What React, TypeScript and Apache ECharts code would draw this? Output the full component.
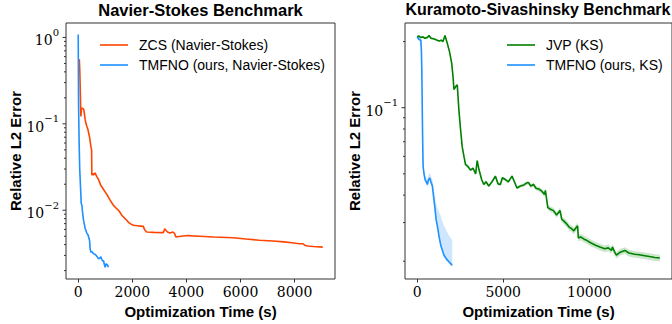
import React, { useEffect, useRef } from 'react';
import * as echarts from 'echarts';

// ---------- Data ----------
const nsTitle = 'Navier-Stokes Benchmark';
const ksTitle = 'Kuramoto-Sivashinsky Benchmark';
const xName = 'Optimization Time (s)';
const yName = 'Relative L2 Error';

const zcsName = 'ZCS (Navier-Stokes)';
const tmfnoNsName = 'TMFNO (ours, Navier-Stokes)';
const jvpName = 'JVP (KS)';
const tmfnoKsName = 'TMFNO (ours, KS)';

// Navier-Stokes: ZCS [time (s), error]
const zcsNS: [number, number][] = [
  [40, 0.56], [60, 0.4], [75, 0.25], [98, 0.122], [120, 0.15], [147, 0.152],
  [200, 0.148], [230, 0.13], [258, 0.111], [290, 0.1], [320, 0.093], [350, 0.088],
  [381, 0.08], [420, 0.07], [467, 0.0545], [495, 0.05], [504, 0.0255], [540, 0.0267],
  [565, 0.0255], [620, 0.027], [688, 0.0245], [740, 0.023], [786, 0.0213], [830, 0.0195],
  [872, 0.0187], [930, 0.0175], [995, 0.0163], [1100, 0.0145], [1180, 0.0131],
  [1240, 0.0122], [1302, 0.0114], [1400, 0.0106], [1487, 0.01], [1550, 0.0094],
  [1610, 0.00875], [1700, 0.0082], [1794, 0.00765], [1850, 0.0073], [1917, 0.007],
  [2040, 0.0067], [2200, 0.0066], [2407, 0.0065], [2450, 0.006], [2531, 0.0056],
  [2800, 0.00555], [3145, 0.0055], [3200, 0.0061], [3231, 0.0059], [3300, 0.0056],
  [3391, 0.00545], [3500, 0.0056], [3560, 0.0054], [3612, 0.0049], [3800, 0.005],
  [4066, 0.0051], [4200, 0.00505], [4500, 0.005], [5000, 0.0049], [5725, 0.00481],
  [6200, 0.00465], [6700, 0.0045], [7200, 0.0044], [7600, 0.0043], [7900, 0.0042],
  [8183, 0.0041], [8300, 0.0041], [8400, 0.0039], [8490, 0.00385], [8700, 0.0038],
  [9043, 0.00374],
];

// Navier-Stokes: TMFNO [time (s), error]
const tmfnoNS: [number, number][] = [
  [0, 1.08], [12, 0.174], [25, 0.09], [37, 0.0545], [55, 0.03], [74, 0.0223], [90, 0.017],
  [111, 0.012], [135, 0.0115], [160, 0.0095], [197, 0.00765], [230, 0.0068], [258, 0.0061],
  [290, 0.0058], [320, 0.0054], [360, 0.0052], [418, 0.0045], [440, 0.0036], [467, 0.00327],
  [520, 0.0033], [565, 0.00313], [610, 0.0031], [663, 0.003], [700, 0.0029], [750, 0.00274],
  [800, 0.0028], [835, 0.0029], [870, 0.0027], [909, 0.00257], [940, 0.0026], [958, 0.0024],
  [995, 0.00219], [1030, 0.0024], [1057, 0.00236], [1090, 0.0023], [1118, 0.00219],
];

// KS: JVP [time (s), error] and relative band half-width
const jvpKS: [number, number][] = [
  [0, 0.21], [100, 0.212], [200, 0.209], [350, 0.21], [450, 0.207], [600, 0.209],
  [694, 0.213], [800, 0.207], [950, 0.206], [1100, 0.204], [1272, 0.201], [1400, 0.203],
  [1500, 0.2], [1618, 0.213], [1754, 0.196], [1880, 0.18], [2004, 0.16], [2080, 0.14],
  [2139, 0.121], [2250, 0.125], [2331, 0.127], [2428, 0.097], [2520, 0.08], [2620, 0.0663],
  [2720, 0.06], [2813, 0.055], [2950, 0.054], [3102, 0.052], [3250, 0.053], [3400, 0.05],
  [3487, 0.0574], [3600, 0.052], [3750, 0.047], [3873, 0.0447], [4000, 0.046], [4162, 0.044],
  [4350, 0.046], [4548, 0.0488], [4700, 0.045], [4837, 0.0447], [4950, 0.048], [5125, 0.0471],
  [5300, 0.046], [5511, 0.0488], [5650, 0.046], [5800, 0.0431], [6000, 0.044], [6200, 0.0445],
  [6378, 0.0455], [6474, 0.0455], [6600, 0.044], [6763, 0.0447], [6900, 0.043], [7100, 0.0425],
  [7243, 0.0417], [7399, 0.0403], [7450, 0.042], [7592, 0.0351], [7750, 0.0345], [7919, 0.034],
  [8100, 0.0325], [8306, 0.034], [8400, 0.031], [8497, 0.0306], [8700, 0.0295], [8850, 0.0285],
  [8978, 0.0281], [9100, 0.0275], [9323, 0.029], [9364, 0.0255], [9500, 0.0258], [9700, 0.0252],
  [9844, 0.0249], [10100, 0.0242], [10400, 0.0236], [10618, 0.0232], [10900, 0.0228],
  [11100, 0.023], [11289, 0.0224], [11350, 0.0232], [11450, 0.0222], [11578, 0.0213],
  [11800, 0.022], [12064, 0.0224], [12300, 0.0218], [12642, 0.0215], [12900, 0.0214],
  [13220, 0.0212], [13500, 0.021], [13800, 0.0208], [14100, 0.0207],
];
const jvpSpread: number[] = [
  0.01, 0.01, 0.01, 0.01, 0.01, 0.01, 0.01, 0.01, 0.01, 0.01, 0.01, 0.01,
  0.01, 0.01, 0.01, 0.012, 0.012, 0.012, 0.012, 0.012, 0.012, 0.012, 0.012, 0.015,
  0.015, 0.015, 0.015, 0.015, 0.015, 0.015, 0.015, 0.015, 0.015, 0.015, 0.015, 0.015,
  0.015, 0.015, 0.015, 0.015, 0.015, 0.015, 0.015, 0.015, 0.015, 0.015, 0.015, 0.02,
  0.02, 0.02, 0.02, 0.02, 0.02, 0.025, 0.025, 0.025, 0.025, 0.03, 0.03, 0.03,
  0.03, 0.03, 0.03, 0.035, 0.035, 0.035, 0.035, 0.035, 0.035, 0.035, 0.035, 0.035,
  0.035, 0.035, 0.035, 0.035, 0.035, 0.035, 0.035, 0.035, 0.035, 0.035, 0.035, 0.035,
  0.035, 0.035, 0.035, 0.035, 0.035, 0.035, 0.035,
];

// KS: TMFNO [time (s), error] with band bounds
const tmfnoKSTime = [0, 100, 214, 250, 272, 290, 306, 325, 347, 400, 462, 530, 595, 660, 734, 800, 884, 960, 1040, 1100, 1173, 1270, 1370, 1460, 1561, 1700, 1850, 1950, 2040];
const tmfnoKSErr = [0.21, 0.205, 0.203, 0.18, 0.147, 0.115, 0.0874, 0.068, 0.054, 0.05, 0.0471, 0.046, 0.0447, 0.047, 0.0479, 0.046, 0.044, 0.039, 0.0345, 0.031, 0.029, 0.026, 0.0237, 0.0225, 0.0213, 0.0205, 0.0199, 0.0195, 0.0192];
const tmfnoKSUpper = [0.215, 0.209, 0.207, 0.19, 0.16, 0.125, 0.095, 0.073, 0.057, 0.052, 0.049, 0.048, 0.047, 0.0495, 0.0505, 0.049, 0.047, 0.043, 0.0396, 0.037, 0.035, 0.0335, 0.0322, 0.0305, 0.029, 0.0276, 0.0262, 0.0255, 0.0249];
const tmfnoKSLower = [0.206, 0.201, 0.199, 0.175, 0.142, 0.11, 0.084, 0.065, 0.052, 0.048, 0.0458, 0.0448, 0.0436, 0.0458, 0.0466, 0.0448, 0.0428, 0.038, 0.0336, 0.0302, 0.0283, 0.0254, 0.0232, 0.022, 0.0209, 0.0201, 0.0195, 0.0191, 0.0188];

// Axis ranges and ticks
const nsXRange = [-452, 9495];
const ksXRange = [-705, 14805];
const nsYRange = [0.0016, 1.47];
const ksYRange = [0.0166, 0.243];
const nsXInterval = 2000;
const ksXInterval = 5000;
const nsMajorY = [0.01, 0.1, 1];
const nsMinorY = [0.002, 0.003, 0.004, 0.005, 0.006, 0.007, 0.008, 0.009, 0.02, 0.03, 0.04, 0.05, 0.06, 0.07, 0.08, 0.09, 0.2, 0.3, 0.4, 0.5, 0.6, 0.7, 0.8, 0.9];
const ksMajorY = [0.1];
const ksMinorY = [0.02, 0.03, 0.04, 0.05, 0.06, 0.07, 0.08, 0.09, 0.2];

// ---------- Styling ----------
const ORANGE = '#FF4500';
const BLUE = '#1E90FF';
const GREEN = '#008000';
const SANS = '"Liberation Sans", Arial, sans-serif';
const SERIF = '"DejaVu Serif", "Liberation Serif", serif';
const AXIS = '#333';

function supLabel(value: number): string {
  const l = Math.log10(value);
  const e = Math.round(l);
  if (Math.abs(l - e) > 1e-6) return '';
  const exp = e < 0 ? '\u2212' + Math.abs(e) : String(e);
  return '{b|10}{s|' + exp + '}';
}

function tickSeries(gridIdx: number, major: number[], minor: number[]) {
  const data = [
    ...major.map((v) => [0, v, 3.5]),
    ...minor.map((v) => [0, v, 2]),
  ];
  return {
    type: 'custom',
    name: 'ticks' + gridIdx,
    xAxisIndex: gridIdx,
    yAxisIndex: gridIdx,
    silent: true,
    encode: { x: 0, y: 1 },
    data,
    renderItem: (params: any, api: any) => {
      const cs = params.coordSys;
      const y = api.coord([0, api.value(1)])[1];
      const len = api.value(2);
      return {
        type: 'line',
        shape: { x1: cs.x - len, y1: y, x2: cs.x, y2: y },
        style: { stroke: AXIS, lineWidth: 1 },
      };
    },
  };
}

function bandSeries(gridIdx: number, name: string, times: number[], lo: number[], hi: number[], fill: string) {
  return {
    type: 'custom',
    name,
    xAxisIndex: gridIdx,
    yAxisIndex: gridIdx,
    silent: true,
    z: 1,
    encode: { x: 0, y: 1 },
    data: [[times[0], hi[0]]],
    renderItem: (_params: any, api: any) => {
      const pts: number[][] = [];
      for (let i = 0; i < times.length; i++) pts.push(api.coord([times[i], hi[i]]));
      for (let i = times.length - 1; i >= 0; i--) pts.push(api.coord([times[i], lo[i]]));
      return { type: 'polygon', shape: { points: pts }, style: { fill, stroke: 'none' } };
    },
  };
}

function lineSeries(gridIdx: number, name: string, data: number[][], color: string) {
  return {
    type: 'line',
    name,
    xAxisIndex: gridIdx,
    yAxisIndex: gridIdx,
    data,
    symbol: 'none',
    z: 3,
    lineStyle: { color, width: 1.6 },
    itemStyle: { color },
  };
}

function xAxisOpt(gridIdx: number, range: number[], interval: number) {
  return {
    type: 'value',
    gridIndex: gridIdx,
    min: range[0],
    max: range[1],
    minInterval: interval,
    maxInterval: interval,
    name: xName,
    nameLocation: 'middle',
    nameGap: 25,
    nameTextStyle: { fontFamily: SANS, fontWeight: 'bold', fontSize: 15, color: '#000' },
    splitLine: { show: false },
    axisLine: { show: false },
    axisTick: { show: true, length: 3.5, lineStyle: { color: AXIS, width: 1 } },
    axisLabel: {
      showMinLabel: false,
      showMaxLabel: false,
      margin: 6,
      fontFamily: SERIF,
      fontSize: 14,
      color: '#000',
      formatter: (v: number) => String(v),
    },
  };
}

function yAxisOpt(gridIdx: number, range: number[]) {
  return {
    type: 'log',
    logBase: 10,
    gridIndex: gridIdx,
    min: range[0],
    max: range[1],
    name: yName,
    nameLocation: 'middle',
    nameGap: 40,
    nameTextStyle: { fontFamily: SANS, fontWeight: 'bold', fontSize: 15, color: '#000' },
    splitLine: { show: false },
    axisLine: { show: false },
    axisTick: { show: false },
    axisLabel: {
      showMinLabel: false,
      showMaxLabel: false,
      margin: 7,
      formatter: supLabel,
      rich: {
        b: { fontFamily: SERIF, fontSize: 14, color: '#000', lineHeight: 20, verticalAlign: 'bottom' },
        s: { fontFamily: SERIF, fontSize: 10, color: '#000', verticalAlign: 'top', lineHeight: 12 },
      },
    },
  };
}

function legendOpt(left: number, names: string[]) {
  return {
    data: names,
    orient: 'vertical',
    left,
    top: 32,
    icon: 'rect',
    itemWidth: 28,
    itemHeight: 1.6,
    itemGap: 4,
    selectedMode: false,
    textStyle: { fontFamily: SANS, fontSize: 14, lineHeight: 16, color: '#000', padding: [0, 0, 0, 6] },
  };
}

export default function App() {
  const ref = useRef<HTMLDivElement>(null);

  useEffect(() => {
    if (!ref.current) return;
    const chart = echarts.init(ref.current, undefined, { renderer: 'svg' });

    const jvpLo = jvpKS.map((p, i) => [p[0], p[1] * (1 - jvpSpread[i])]);
    const jvpHi = jvpKS.map((p, i) => [p[0], p[1] * (1 + jvpSpread[i])]);
    const ksTmfno = tmfnoKSTime.map((t, i) => [t, tmfnoKSErr[i]]);

    chart.setOption({
      animation: false,
      backgroundColor: '#fff',
      title: [
        { text: nsTitle, left: 200.5, top: 1, padding: 0, textAlign: 'center',
          textStyle: { fontFamily: SANS, fontWeight: 'bold', fontSize: 16.5, color: '#000' } },
        { text: ksTitle, left: 538, top: 1, padding: 0, textAlign: 'center',
          textStyle: { fontFamily: SANS, fontWeight: 'bold', fontSize: 16, color: '#000' } },
      ],
      legend: [
        legendOpt(95, [zcsName, tmfnoNsName]),
        legendOpt(502, [jvpName, tmfnoKsName]),
      ],
      grid: [
        { left: 66, top: 23, width: 269, height: 257, show: true, borderColor: AXIS, borderWidth: 1, backgroundColor: 'transparent' },
        { left: 405, top: 23, width: 270, height: 257, show: true, borderColor: AXIS, borderWidth: 1, backgroundColor: 'transparent' },
      ],
      xAxis: [xAxisOpt(0, nsXRange, nsXInterval), xAxisOpt(1, ksXRange, ksXInterval)],
      yAxis: [yAxisOpt(0, nsYRange), yAxisOpt(1, ksYRange)],
      series: [
        tickSeries(0, nsMajorY, nsMinorY),
        tickSeries(1, ksMajorY, ksMinorY),
        bandSeries(1, 'jvp-band', jvpKS.map((p) => p[0]), jvpLo.map((p) => p[1]), jvpHi.map((p) => p[1]), 'rgba(0,128,0,0.2)'),
        bandSeries(1, 'tmfno-ks-band', tmfnoKSTime, tmfnoKSLower, tmfnoKSUpper, 'rgba(30,144,255,0.22)'),
        lineSeries(0, zcsName, zcsNS, ORANGE),
        lineSeries(0, tmfnoNsName, tmfnoNS, BLUE),
        lineSeries(1, jvpName, jvpKS, GREEN),
        lineSeries(1, tmfnoKsName, ksTmfno, BLUE),
      ],
    });

    return () => chart.dispose();
  }, []);

  return (
    <div
      ref={ref}
      style={{ position: 'fixed', left: 0, top: 0, width: 672, height: 324, background: '#fff' }}
    />
  );
}
